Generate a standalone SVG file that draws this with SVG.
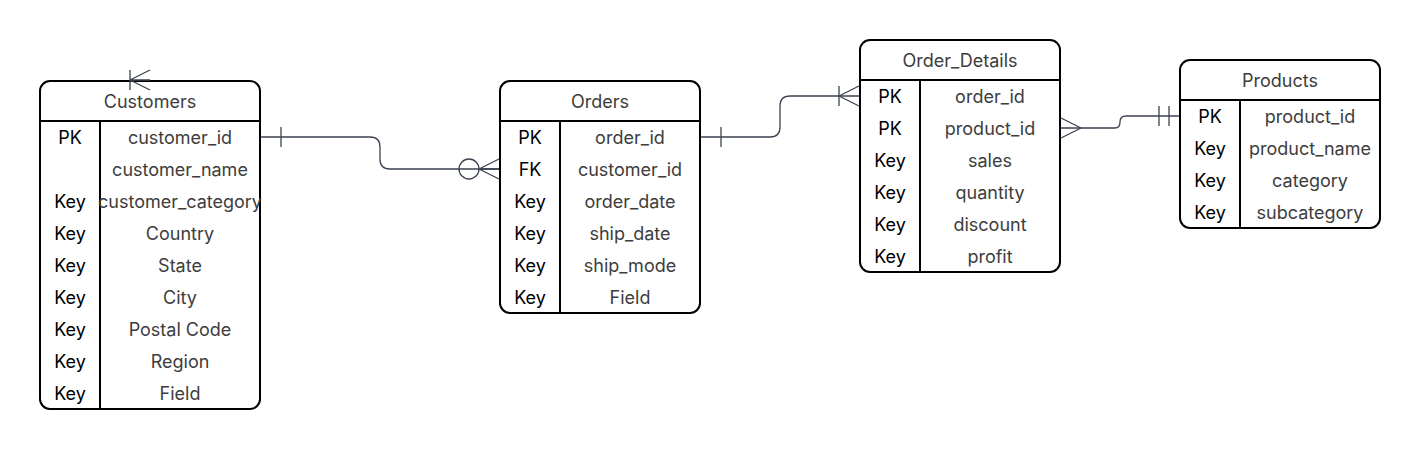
<svg xmlns="http://www.w3.org/2000/svg" width="1420" height="449" viewBox="0 0 1420 449">
<style>
.box{fill:#fff;stroke:#000;stroke-width:2}
.ln{stroke:#000;stroke-width:2;fill:none}
.h{font-family:Inter,"Liberation Sans",sans-serif;font-size:18px;fill:#3d3d3d;text-anchor:middle;dominant-baseline:central}
.k{font-family:Inter,"Liberation Sans",sans-serif;font-size:18px;fill:#000;text-anchor:middle;dominant-baseline:central}
.f{font-family:Inter,"Liberation Sans",sans-serif;font-size:18px;fill:#3d3d3d;text-anchor:middle;dominant-baseline:central}
.c{stroke:#3b4250;stroke-width:1.3;fill:none}
</style>
<g id="customers">
<rect class="box" x="40" y="81" width="220" height="328" rx="10"/>
<line class="ln" x1="40" y1="121" x2="260" y2="121"/>
<line class="ln" x1="100" y1="121" x2="100" y2="409"/>
<text class="h" x="150" y="101">Customers</text>
<text class="k" x="70" y="137">PK</text><text class="f" x="180" y="137">customer_id</text>
<text class="f" x="180" y="169">customer_name</text>
<text class="k" x="70" y="201">Key</text><text class="f" x="180" y="201">customer_category</text>
<text class="k" x="70" y="233">Key</text><text class="f" x="180" y="233">Country</text>
<text class="k" x="70" y="265">Key</text><text class="f" x="180" y="265">State</text>
<text class="k" x="70" y="297">Key</text><text class="f" x="180" y="297">City</text>
<text class="k" x="70" y="329">Key</text><text class="f" x="180" y="329">Postal Code</text>
<text class="k" x="70" y="361">Key</text><text class="f" x="180" y="361">Region</text>
<text class="k" x="70" y="393">Key</text><text class="f" x="180" y="393">Field</text>
</g>
<g id="orders">
<rect class="box" x="500" y="81" width="200" height="232" rx="10"/>
<line class="ln" x1="500" y1="121" x2="700" y2="121"/>
<line class="ln" x1="560" y1="121" x2="560" y2="313"/>
<text class="h" x="600" y="101">Orders</text>
<text class="k" x="530" y="137">PK</text><text class="f" x="630" y="137">order_id</text>
<text class="k" x="530" y="169">FK</text><text class="f" x="630" y="169">customer_id</text>
<text class="k" x="530" y="201">Key</text><text class="f" x="630" y="201">order_date</text>
<text class="k" x="530" y="233">Key</text><text class="f" x="630" y="233">ship_date</text>
<text class="k" x="530" y="265">Key</text><text class="f" x="630" y="265">ship_mode</text>
<text class="k" x="530" y="297">Key</text><text class="f" x="630" y="297">Field</text>
</g>
<g id="order_details">
<rect class="box" x="860" y="40" width="200" height="232" rx="10"/>
<line class="ln" x1="860" y1="80" x2="1060" y2="80"/>
<line class="ln" x1="920" y1="80" x2="920" y2="272"/>
<text class="h" x="960" y="60">Order_Details</text>
<text class="k" x="890" y="96">PK</text><text class="f" x="990" y="96">order_id</text>
<text class="k" x="890" y="128">PK</text><text class="f" x="990" y="128">product_id</text>
<text class="k" x="890" y="160">Key</text><text class="f" x="990" y="160">sales</text>
<text class="k" x="890" y="192">Key</text><text class="f" x="990" y="192">quantity</text>
<text class="k" x="890" y="224">Key</text><text class="f" x="990" y="224">discount</text>
<text class="k" x="890" y="256">Key</text><text class="f" x="990" y="256">profit</text>
</g>
<g id="products">
<rect class="box" x="1180" y="60" width="200" height="168" rx="10"/>
<line class="ln" x1="1180" y1="100" x2="1380" y2="100"/>
<line class="ln" x1="1240" y1="100" x2="1240" y2="228"/>
<text class="h" x="1280" y="80">Products</text>
<text class="k" x="1210" y="116">PK</text><text class="f" x="1310" y="116">product_id</text>
<text class="k" x="1210" y="148">Key</text><text class="f" x="1310" y="148">product_name</text>
<text class="k" x="1210" y="180">Key</text><text class="f" x="1310" y="180">category</text>
<text class="k" x="1210" y="212">Key</text><text class="f" x="1310" y="212">subcategory</text>
</g>
<g id="connectors">
<path class="c" d="M261,137 H370 Q380,137 380,147 V159 Q380,169 390,169 H499"/>
<line class="c" x1="281" y1="127" x2="281" y2="147"/>
<circle class="c" cx="469" cy="169" r="10" fill="#fff"/>
<path class="c" d="M479,169 L499,159 M479,169 L499,169 M479,169 L499,179"/>
<path class="c" d="M701,137 H770 Q780,137 780,127 V106 Q780,96 790,96 H859"/>
<line class="c" x1="721" y1="127" x2="721" y2="147"/>
<line class="c" x1="839" y1="86" x2="839" y2="106"/>
<path class="c" d="M839,96 L859,86 M839,96 L859,106"/>
<path class="c" d="M1061,128 H1115 Q1120,128 1120,122 Q1120,116 1126,116 H1179"/>
<path class="c" d="M1081,128 L1061,118 M1081,128 L1061,138"/>
<line class="c" x1="1159" y1="106" x2="1159" y2="126"/>
<line class="c" x1="1169" y1="106" x2="1169" y2="126"/>
<line class="c" x1="130" y1="70" x2="130" y2="90"/>
<path class="c" d="M130,80 L150,70 M130,80 L150,80 M130,80 L150,90"/>
</g>
</svg>
